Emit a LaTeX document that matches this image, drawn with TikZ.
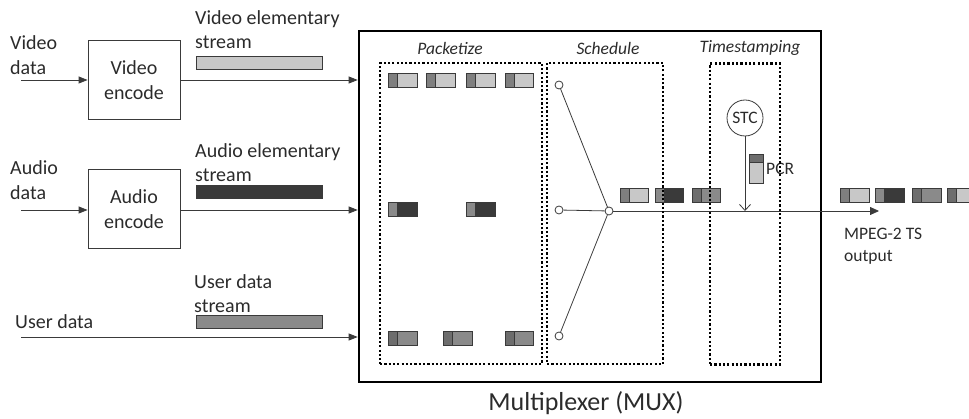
\documentclass[tikz,border=0pt]{standalone}
\usepackage{fontspec}
\setmainfont{Carlito}
\usetikzlibrary{arrows.meta}
\definecolor{txt}{HTML}{2B2B2B}
\definecolor{ln}{HTML}{3A3A3A}
\definecolor{vid}{HTML}{C8C8C8}
\definecolor{vidh}{HTML}{7F7F7F}
\definecolor{aud}{HTML}{3A3A3A}
\definecolor{audh}{HTML}{8A8A8A}
\definecolor{usr}{HTML}{8A8A8A}
\definecolor{usrh}{HTML}{6D6D6D}
\newcommand\pkt[5]{% x y w headcolor bodycolor
  \filldraw[fill=#4,draw=ln,line width=0.7pt] (#1,#2) rectangle ++(9,14);
  \filldraw[fill=#5,draw=ln,line width=0.7pt] (#1+9,#2) rectangle (#1+#3,#2+14);
}
\tikzset{
  lbl/.style={inner sep=0pt, text=txt, align=left, font=\fontsize{20}{24.4}\selectfont},
  sml/.style={inner sep=0pt, text=txt, align=left, font=\fontsize{17.5}{22}\selectfont},
  ttl/.style={inner sep=0pt, text=txt, font=\fontsize{17.5}{20}\selectfont\itshape},
  encbox/.style={draw=ln, line width=0.8pt, minimum width=92pt, minimum height=79pt, align=center, text=txt, font=\fontsize{20}{24.4}\selectfont, inner sep=0pt},
  dotbox/.style={draw=black, line width=2.2pt, dash pattern=on 2.2pt off 2.1pt, minimum width=#1, minimum height=301pt, inner sep=0pt},
  arr/.style={draw=ln, line width=0.8pt, -{Triangle[length=9pt,width=7pt]}},
  port/.style={circle, draw=ln, fill=white, line width=0.8pt, minimum size=8pt, inner sep=0pt},
  bar/.style={draw=ln, line width=0.7pt}
}
\begin{document}
\begin{tikzpicture}[x=1pt,y=-1pt]
\useasboundingbox (0,0) rectangle (969,419);
% MUX
\node[draw=black, line width=2.6pt, minimum width=462pt, minimum height=351pt, inner sep=0pt] (mux) at (590,206.5) {};
\node[inner sep=0pt, text=txt, font=\fontsize{26}{30}\selectfont] (muxl) at (586,403) {Multiplexer (MUX)};
\node[ttl] (pkl) at (450,48) {Packetize};
\node[ttl] (scl) at (608,48) {Schedule};
\node[ttl] (tsl) at (750,48) {Timestamping};
% inputs
\coordinate (vin) at (21,80);
\coordinate (ain) at (21,210);
\coordinate (uin) at (21,337);
\node[lbl, anchor=west] (vdl) at (10,55) {Video\\data};
\node[lbl, anchor=west] (adl) at (10,180) {Audio\\data};
\node[lbl, anchor=west] (udl) at (15,322) {User data};
\node[encbox] (encv) at (134,80) {Video\\encode};
\node[encbox] (enca) at (134,209) {Audio\\encode};
\draw[arr] (vin) -- (vin -| encv.west);
\draw[arr] (ain) -- (ain -| enca.west);
\draw[arr] (encv.east |- vin) -- (vin -| mux.west);
\draw[arr] (enca.east |- ain) -- (ain -| mux.west);
\draw[arr] (uin) -- (uin -| mux.west);
% streams
\node[lbl, anchor=west] (vsl) at (195,29.5) {Video elementary\\stream};
\node[lbl, anchor=west] (asl) at (195,162.5) {Audio elementary\\stream};
\node[lbl, anchor=west] (usl) at (194,293.5) {User data\\stream};
\filldraw[bar, fill=vid] (196,56) rectangle (322,69);
\filldraw[bar, fill=aud] (196,185) rectangle (322,198);
\filldraw[bar, fill=usr] (196,315) rectangle (322,328);
% packets in packetize
\pkt{388}{73}{29}{vidh}{vid}
\pkt{426}{73}{29}{vidh}{vid}
\pkt{466}{73}{29}{vidh}{vid}
\pkt{505}{73}{28}{vidh}{vid}
\pkt{388}{202}{29}{audh}{aud}
\pkt{466}{202}{29}{audh}{aud}
\pkt{388}{331}{29}{usrh}{usr}
\pkt{443}{331}{29}{usrh}{usr}
\pkt{505}{331}{28}{usrh}{usr}
% schedule
\node[port] (c1) at (559,85) {};
\node[port] (c2) at (559,210) {};
\node[port] (c3) at (559,336) {};
\node[port] (cm) at (609,211) {};
\draw[draw=ln, line width=0.8pt] (c1) -- (cm);
\draw[draw=ln, line width=0.8pt] (c2) -- (cm);
\draw[draw=ln, line width=0.8pt] (c3) -- (cm);
\coordinate (outp) at (879,211);
\draw[arr, -{Triangle[length=9pt,width=8pt]}] (cm) -- (outp);
\pkt{620}{188}{28}{vidh}{vid}
\pkt{655}{188}{28}{audh}{aud}
\pkt{692}{188}{28}{usrh}{usr}
% timestamping
\node[circle, draw=ln, line width=0.8pt, minimum size=36pt, inner sep=0pt, text=txt, font=\fontsize{17.5}{20}\selectfont] (stc) at (745,118) {STC};
\draw[draw=ln, line width=0.8pt, -{Straight Barb[length=6pt,width=11pt]}] (stc.south) -- (stc.south |- outp);
\filldraw[fill=usrh, draw=ln, line width=0.7pt] (749,154) rectangle (763,162);
\filldraw[fill=vid, draw=ln, line width=0.7pt] (749,162) rectangle (763,183);
\node[sml, anchor=west] (pcr) at (766,169) {PCR};
% output
\node[sml, anchor=west] (mpl) at (844,246) {MPEG-2 TS\\output};
\pkt{840}{188}{29}{vidh}{vid}
\pkt{875}{188}{29}{audh}{aud}
\pkt{912}{188}{29}{usrh}{usr}
\begin{scope}
\clip (0,0) rectangle (969,419);
\pkt{947}{188}{29}{usrh}{vid}
\end{scope}
% sub boxes (drawn over the packets)
\node[dotbox=162pt] (pk) at (461,213.5) {};
\node[dotbox=116pt] (sc) at (605,213.5) {};
\node[dotbox=70pt] (ts) at (745,214) {};
\end{tikzpicture}
\end{document}
